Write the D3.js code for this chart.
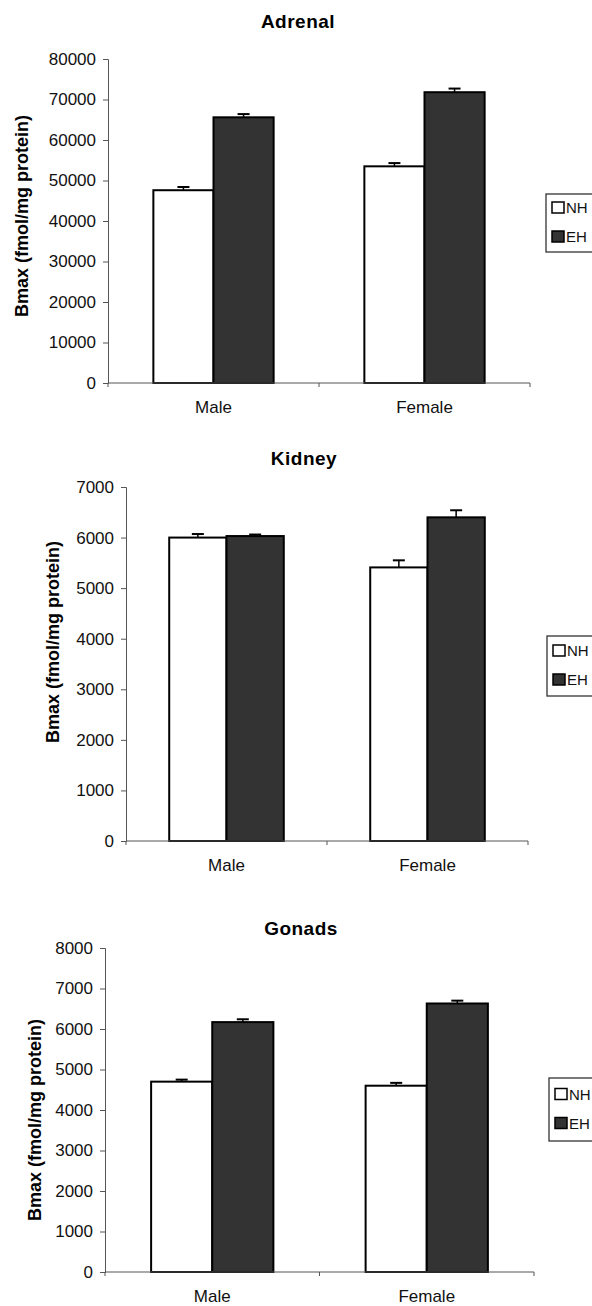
<!DOCTYPE html>
<meta charset="utf-8">
<head>
  <title>Bmax</title>
  <style>
    body {
      margin: 0;
      background: #fff;
      font-family: "Liberation Sans", Arial, Helvetica, sans-serif;
      color: #111;
    }
    .axis path, .axis line { stroke: #555; }
    .axis text { font-size: 17px; fill: #111; font-family: "Liberation Sans", Arial, sans-serif; }
    .title { font-size: 19px; font-weight: bold; letter-spacing: 0.5px; }
    .ytitle { font-size: 18px; font-weight: bold; }
    .legend text { font-size: 15px; fill: #111; }
  </style>
  <script src="https://d3js.org/d3.v7.min.js"></script>
</head>
<body>
  <svg id="chart" width="592" height="1306"></svg>

  <script>
// data
var categories = ["Male", "Female"];
var series = ["NH", "EH"];
var colors = {NH: "#ffffff", EH: "#333333"};

var adrenalNH = [47600, 53500];
var adrenalEH = [65600, 71800];
var adrenalNHerr = [800, 800];
var adrenalEHerr = [800, 900];
var adrenalTicks = [0, 10000, 20000, 30000, 40000, 50000, 60000, 70000, 80000];

var kidneyNH = [6000, 5410];
var kidneyEH = [6030, 6400];
var kidneyNHerr = [70, 140];
var kidneyEHerr = [30, 140];
var kidneyTicks = [0, 1000, 2000, 3000, 4000, 5000, 6000, 7000];

var gonadsNH = [4700, 4600];
var gonadsEH = [6170, 6630];
var gonadsNHerr = [50, 70];
var gonadsEHerr = [70, 70];
var gonadsTicks = [0, 1000, 2000, 3000, 4000, 5000, 6000, 7000, 8000];

var yLabel = "Bmax (fmol/mg protein)";

// layout of each panel
var panels = [
  {title: "Adrenal", nh: adrenalNH, eh: adrenalEH, nhErr: adrenalNHerr, ehErr: adrenalEHerr, ticks: adrenalTicks,
   left: 108, right: 530, top: 59, bottom: 383, titleX: 298, titleY: 28, yTitleX: 28, yTitleY: 216,
   legend: {x: 546, y: 194, h: 58}},
  {title: "Kidney", nh: kidneyNH, eh: kidneyEH, nhErr: kidneyNHerr, ehErr: kidneyEHerr, ticks: kidneyTicks,
   left: 126, right: 528, top: 487, bottom: 841, titleX: 304, titleY: 465, yTitleX: 59, yTitleY: 642,
   legend: {x: 547, y: 636, h: 60}},
  {title: "Gonads", nh: gonadsNH, eh: gonadsEH, nhErr: gonadsNHerr, ehErr: gonadsEHerr, ticks: gonadsTicks,
   left: 105, right: 534, top: 948, bottom: 1272, titleX: 301, titleY: 935, yTitleX: 41, yTitleY: 1120,
   legend: {x: 549, y: 1078, h: 63}}
];

var svg = d3.select("#chart");

function drawPanel(p) {
  var g = svg.append("g");

  var x0 = d3.scaleBand().domain(categories).range([p.left, p.right]);
  var bw = x0.bandwidth();
  var x1 = d3.scaleBand().domain(series).range([0.215 * bw, 0.785 * bw]);
  var y = d3.scaleLinear()
    .domain([0, p.ticks[p.ticks.length - 1]])
    .range([p.bottom, p.top]);

  var rows = [];
  categories.forEach(function(c, i) {
    rows.push({cat: c, s: "NH", v: p.nh[i], e: p.nhErr[i]});
    rows.push({cat: c, s: "EH", v: p.eh[i], e: p.ehErr[i]});
  });

  // bars
  g.selectAll("rect.bar")
    .data(rows)
    .enter().append("rect")
    .attr("class", "bar")
    .attr("x", function(d) { return x0(d.cat) + x1(d.s); })
    .attr("y", function(d) { return y(d.v); })
    .attr("width", x1.bandwidth())
    .attr("height", function(d) { return y(0) - y(d.v); })
    .attr("fill", function(d) { return colors[d.s]; })
    .attr("stroke", "#000")
    .attr("stroke-width", 2);

  // error bars (upper only)
  var eb = g.selectAll("g.err")
    .data(rows)
    .enter().append("g")
    .attr("class", "err")
    .attr("transform", function(d) { return "translate(" + (x0(d.cat) + x1(d.s) + x1.bandwidth() / 2) + ",0)"; });
  eb.append("line")
    .attr("y1", function(d) { return y(d.v); })
    .attr("y2", function(d) { return y(d.v + d.e); })
    .attr("stroke", "#000").attr("stroke-width", 1.5);
  eb.append("line")
    .attr("x1", -6).attr("x2", 6)
    .attr("y1", function(d) { return y(d.v + d.e); })
    .attr("y2", function(d) { return y(d.v + d.e); })
    .attr("stroke", "#000").attr("stroke-width", 2);

  // y axis
  g.append("g")
    .attr("class", "axis")
    .attr("transform", "translate(" + p.left + ",0)")
    .call(d3.axisLeft(y).tickValues(p.ticks).tickFormat(d3.format("d")).tickSize(5).tickPadding(7));

  // x axis
  var xa = g.append("g")
    .attr("class", "axis")
    .attr("transform", "translate(0," + p.bottom + ")")
    .call(d3.axisBottom(x0).tickSize(0).tickPadding(18));
  xa.select(".domain").remove();
  xa.append("line")
    .attr("x1", p.left).attr("x2", p.right)
    .attr("stroke", "#555");
  var bounds = [p.left].concat(categories.map(function(c) { return x0(c) + bw; }));
  xa.selectAll("line.bound")
    .data(bounds)
    .enter().append("line")
    .attr("class", "bound")
    .attr("x1", function(d) { return d; })
    .attr("x2", function(d) { return d; })
    .attr("y1", 0).attr("y2", 4)
    .attr("stroke", "#555");

  // titles
  g.append("text")
    .attr("class", "title")
    .attr("x", p.titleX).attr("y", p.titleY)
    .attr("text-anchor", "middle")
    .text(p.title);

  g.append("text")
    .attr("class", "ytitle")
    .attr("transform", "translate(" + p.yTitleX + "," + p.yTitleY + ") rotate(-90)")
    .attr("text-anchor", "middle")
    .text(yLabel);

  // legend (box runs off the right edge as in the original)
  var lg = g.append("g").attr("class", "legend")
    .attr("transform", "translate(" + p.legend.x + "," + p.legend.y + ")");
  lg.append("rect")
    .attr("width", 80).attr("height", p.legend.h)
    .attr("fill", "#fff").attr("stroke", "#333").attr("stroke-width", 1.3);
  var item = lg.selectAll("g.item")
    .data(series)
    .enter().append("g")
    .attr("class", "item")
    .attr("transform", function(d, i) { return "translate(6," + (p.legend.h / 2 - 21 + i * 29) + ")"; });
  item.append("rect")
    .attr("width", 12).attr("height", 11)
    .attr("fill", function(d) { return colors[d]; })
    .attr("stroke", "#000").attr("stroke-width", 1.5);
  item.append("text")
    .attr("x", 14).attr("y", 11)
    .text(function(d) { return d; });
}

panels.forEach(drawPanel);
  </script>
</body>
</html>
